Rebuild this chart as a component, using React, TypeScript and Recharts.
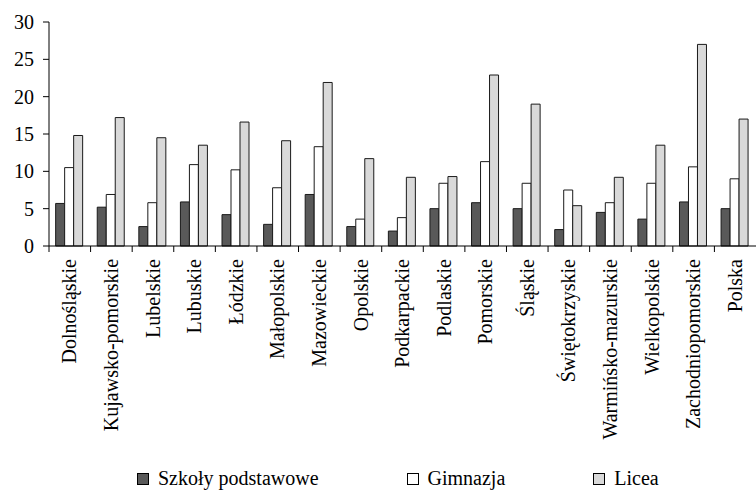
import React from 'react';
import { BarChart, Bar, XAxis, YAxis } from 'recharts';

const categories = [
  'Dolnośląskie', 'Kujawsko-pomorskie', 'Lubelskie', 'Lubuskie', 'Łódzkie',
  'Małopolskie', 'Mazowieckie', 'Opolskie', 'Podkarpackie', 'Podlaskie',
  'Pomorskie', 'Śląskie', 'Świętokrzyskie', 'Warmińsko-mazurskie',
  'Wielkopolskie', 'Zachodniopomorskie', 'Polska',
];
const szkolyPodstawowe = [5.7, 5.2, 2.6, 5.9, 4.2, 2.9, 6.9, 2.6, 2.0, 5.0, 5.8, 5.0, 2.2, 4.5, 3.6, 5.9, 5.0];
const gimnazja = [10.5, 6.9, 5.8, 10.9, 10.2, 7.8, 13.3, 3.6, 3.8, 8.4, 11.3, 8.4, 7.5, 5.8, 8.4, 10.6, 9.0];
const licea = [14.8, 17.2, 14.5, 13.5, 16.6, 14.1, 21.9, 11.7, 9.2, 9.3, 22.9, 19.0, 5.4, 9.2, 13.5, 27.0, 17.0];
const yTicks = [0, 5, 10, 15, 20, 25, 30];

const seriesNames = ['Szkoły podstawowe', 'Gimnazja', 'Licea'];
const seriesColors = ['#595959', '#ffffff', '#d9d9d9'];

const data = categories.map((c, i) => ({
  name: c,
  s: szkolyPodstawowe[i],
  g: gimnazja[i],
  l: licea[i],
}));

const CatTick = (props: any) => {
  const { x, y, payload } = props;
  const off = payload && payload.offset ? payload.offset : 0;
  return (
    <g>
      <line x1={x - off} x2={x - off} y1={y} y2={y + 6} stroke="#000" strokeWidth={1} />
      <text
        x={x}
        y={y + 13}
        transform={`rotate(-90, ${x}, ${y + 13})`}
        textAnchor="end"
        dy="0.33em"
        fontSize={20}
        fill="#000"
      >
        {payload.value}
      </text>
    </g>
  );
};

export default function App() {
  return (
    <div style={{ position: 'absolute', left: 0, top: 0, width: 756, height: 491, background: '#fff' }}>
      <BarChart
        width={756}
        height={491}
        data={data}
        margin={{ top: 22, right: 0, bottom: 0, left: 0 }}
        barCategoryGap="16%"
        barGap={0}
      >
        <XAxis
          dataKey="name"
          height={245}
          interval={0}
          tickLine={false}
          tickSize={0}
          tickMargin={0}
          axisLine={{ stroke: '#000', strokeWidth: 1 }}
          tick={<CatTick />}
        />
        <YAxis
          width={49}
          domain={[0, 30]}
          ticks={yTicks}
          interval={0}
          tickSize={6}
          tickMargin={9}
          axisLine={{ stroke: '#000', strokeWidth: 1 }}
          tickLine={{ stroke: '#000', strokeWidth: 1 }}
          tick={{ fill: '#000', fontSize: 20 }}
        />
        <Bar dataKey="s" name={seriesNames[0]} fill={seriesColors[0]} stroke="#1a1a1a" strokeWidth={1} isAnimationActive={false} />
        <Bar dataKey="g" name={seriesNames[1]} fill={seriesColors[1]} stroke="#1a1a1a" strokeWidth={1} isAnimationActive={false} />
        <Bar dataKey="l" name={seriesNames[2]} fill={seriesColors[2]} stroke="#1a1a1a" strokeWidth={1} isAnimationActive={false} />
      </BarChart>
      <div
        style={{
          position: 'absolute',
          left: 137,
          top: 467,
          display: 'flex',
          alignItems: 'center',
          fontSize: 20,
          color: '#000',
          whiteSpace: 'nowrap',
        }}
      >
        {seriesNames.map((n, i) => (
          <div key={n} style={{ display: 'flex', alignItems: 'center', marginRight: i < seriesNames.length - 1 ? 88 : 0 }}>
            <span
              style={{
                display: 'inline-block',
                width: 10,
                height: 10,
                background: seriesColors[i],
                border: '1px solid #000',
                marginRight: 9,
              }}
            />
            <span>{n}</span>
          </div>
        ))}
      </div>
    </div>
  );
}
